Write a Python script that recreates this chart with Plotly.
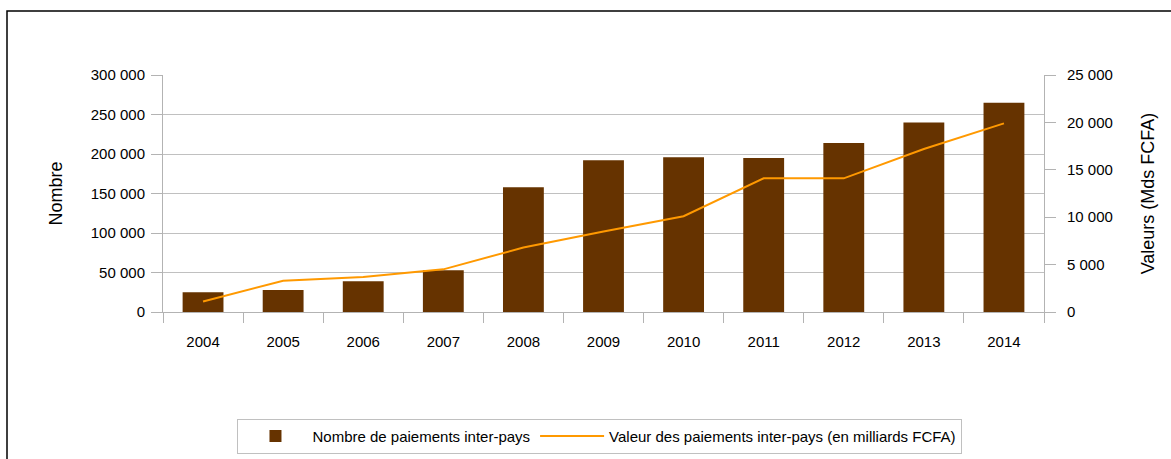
import plotly.graph_objects as go

years = ["2004", "2005", "2006", "2007", "2008", "2009", "2010", "2011", "2012", "2013", "2014"]
nombre = [25000, 28000, 39000, 53000, 158000, 192000, 196000, 195000, 214000, 240000, 265000]
valeur = [1100, 3300, 3700, 4500, 6800, 8500, 10100, 14100, 14100, 17200, 19900]

left_ticks = [0, 50000, 100000, 150000, 200000, 250000, 300000]
left_labels = ["0", "50 000", "100 000", "150 000", "200 000", "250 000", "300 000"]
right_ticks = [0, 5000, 10000, 15000, 20000, 25000]
right_labels = ["0", "5 000", "10 000", "15 000", "20 000", "25 000"]

FONT = "Liberation Sans, Arial, sans-serif"
GRID = "#c0c0c0"
AXIS = "#b3b3b3"

fig = go.Figure()
fig.add_trace(go.Bar(
    x=years, y=nombre, name="Nombre de paiements inter-pays",
    marker=dict(color="#663300", line=dict(width=0)),
    yaxis="y",
))
fig.add_trace(go.Scatter(
    x=years, y=valeur, name="Valeur des paiements inter-pays (en milliards FCFA)",
    mode="lines", line=dict(color="#ff9900", width=2),
    yaxis="y2",
))

fig.update_layout(
    width=1171, height=459,
    margin=dict(l=163, r=127, t=75, b=147, autoexpand=False),
    paper_bgcolor="white", plot_bgcolor="white",
    font=dict(family=FONT, size=15, color="#000000"),
    bargap=0.49,
    showlegend=True,
    legend=dict(
        orientation="h", x=0.496, xanchor="center", y=-0.45, yanchor="top",
        bordercolor="#c0c0c0", borderwidth=1, bgcolor="white",
        font=dict(size=15), itemwidth=64, traceorder="normal",
    ),
    xaxis=dict(
        type="category", showgrid=False, showline=True, linecolor=AXIS, linewidth=1,
        ticks="outside", tickson="boundaries", ticklen=10, tickcolor=AXIS,
        ticklabelstandoff=16, zeroline=False,
    ),
    yaxis=dict(
        range=[0, 300000], tickvals=left_ticks, ticktext=left_labels,
        showgrid=True, gridcolor=GRID, gridwidth=1,
        showline=True, linecolor=AXIS, linewidth=1,
        ticks="outside", ticklen=11, tickcolor=AXIS, zeroline=False,
        ticklabelstandoff=3,
        title=dict(text="Nombre", standoff=23),
    ),
    yaxis2=dict(
        range=[0, 25000], tickvals=right_ticks, ticktext=right_labels,
        overlaying="y", side="right", showgrid=False,
        showline=True, linecolor=AXIS, linewidth=1,
        ticks="outside", ticklen=11, tickcolor=AXIS, zeroline=False,
        ticklabelstandoff=8,
        title=dict(text="Valeurs (Mds FCFA)", standoff=29),
    ),
    shapes=[dict(
        type="rect", xref="paper", yref="paper",
        x0=(7 - 163) / 881, x1=(1200 - 163) / 881,
        y0=(312 - 500) / 237, y1=(312 - 11) / 237,
        line=dict(color="#000000", width=1.5), fillcolor="rgba(0,0,0,0)", layer="below",
    )],
)

fig.write_html(
    "out.html",
    config={"displayModeBar": False},
    post_script="document.body.style.margin='0';document.body.style.overflow='hidden';",
)
